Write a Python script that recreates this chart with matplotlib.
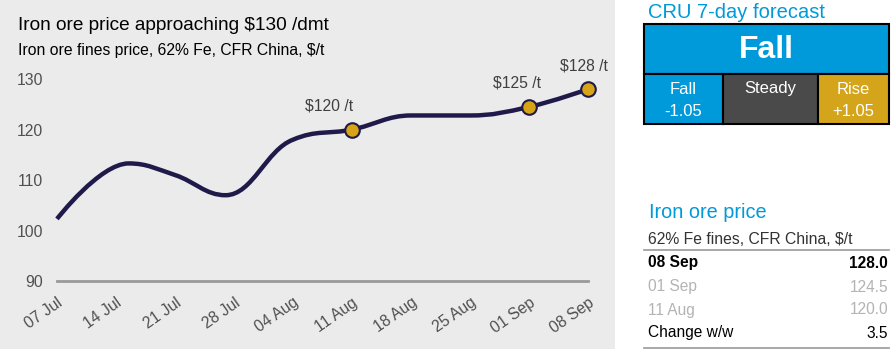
import matplotlib
matplotlib.use("Agg")
import matplotlib.pyplot as plt
from matplotlib.path import Path
from matplotlib.patches import PathPatch, Rectangle

plt.rcParams['font.family'] = ['Liberation Sans', 'DejaVu Sans']

# price readings (day 0 = 07 Jul), $/t
days = [0, 8.5, 14, 20, 28, 35, 42, 49, 56, 63]
prices = [102.3, 113.3, 111.0, 107.0, 118.0, 120.0, 122.8, 122.8, 124.5, 128.0]

tick_days = [0, 7, 14, 21, 28, 35, 42, 49, 56, 63]
tick_labels = ['07 Jul', '14 Jul', '21 Jul', '28 Jul', '04 Aug',
               '11 Aug', '18 Aug', '25 Aug', '01 Sep', '08 Sep']

# highlighted points
mark_days = [35, 56, 63]
mark_prices = [120.0, 124.5, 128.0]
mark_labels = ['$120 /t', '$125 /t', '$128 /t']

# forecast box
forecast = 'Fall'
fall_value = '-1.05'
rise_value = '+1.05'

# price table
table_dates = ['08 Sep', '01 Sep', '11 Aug']
table_values = ['128.0', '124.5', '120.0']
change_ww = '3.5'

NAVY = '#1f1a4a'
GOLD = '#d6a416'
BLUE = '#0099d9'
GREY_TXT = '#505050'


def spline_path(xs, ys):
    # smooth curve through points, same control point rule as a highcharts spline
    sm, den = 1.5, 2.5
    verts = [(xs[0], ys[0])]
    codes = [Path.MOVETO]
    right = (xs[0], ys[0])
    n = len(xs)
    for i in range(1, n):
        x, y = xs[i], ys[i]
        if i < n - 1:
            lx, ly = xs[i - 1], ys[i - 1]
            nx, ny = xs[i + 1], ys[i + 1]
            lcx = (sm * x + lx) / den
            lcy = (sm * y + ly) / den
            rcx = (sm * x + nx) / den
            rcy = (sm * y + ny) / den
            if rcx != lcx:
                corr = ((rcy - lcy) * (rcx - x)) / (rcx - lcx) + y - rcy
                lcy += corr
                rcy += corr
            if lcy > ly and lcy > y:
                lcy = max(ly, y); rcy = 2 * y - lcy
            elif lcy < ly and lcy < y:
                lcy = min(ly, y); rcy = 2 * y - lcy
            if rcy > ny and rcy > y:
                rcy = max(ny, y); lcy = 2 * y - rcy
            elif rcy < ny and rcy < y:
                rcy = min(ny, y); lcy = 2 * y - rcy
            left = (lcx, lcy)
            new_right = (rcx, rcy)
        else:
            left = (x, y)
            new_right = None
        verts += [right, left, (x, y)]
        codes += [Path.CURVE4] * 3
        right = new_right
    return Path(verts, codes)


W, H = 896, 358
fig = plt.figure(figsize=(W / 100, H / 100), dpi=100)

# grey panel behind the chart
fig.patches.append(Rectangle((0, 9 / H), 615 / W, 1 - 9 / H, transform=fig.transFigure,
                             facecolor='#ebebeb', edgecolor='none', zorder=-5))

ax = fig.add_axes([57 / W, 77 / H, 531 / W, 217 / H])
ax.set_facecolor('none')
ax.set_zorder(2)
ax.set_xlim(0, 63)
ax.set_ylim(90, 133)
for s in ['top', 'right', 'left']:
    ax.spines[s].set_visible(False)
ax.spines['bottom'].set_color('#999999')
ax.spines['bottom'].set_linewidth(2)
ax.set_yticks([90, 100, 110, 120, 130])
ax.tick_params(axis='y', length=0, pad=10, labelsize=11.3, labelcolor=GREY_TXT)
ax.set_xticks(tick_days)
ax.set_xticklabels(tick_labels, rotation=35, ha='right', va='top', rotation_mode='anchor')
ax.tick_params(axis='x', length=0, pad=10, labelsize=11.3, labelcolor=GREY_TXT)

ax.add_patch(PathPatch(spline_path(days, prices), fill=False, edgecolor=NAVY,
                       linewidth=3.2, capstyle='butt', clip_on=False, zorder=3))
ax.scatter(mark_days, mark_prices, s=110, color=GOLD, edgecolor=NAVY, linewidth=1.5,
           zorder=4, clip_on=False)
offsets = [(-23, 16), (-12, 16), (-4, 16)]
for d, p, lab, off in zip(mark_days, mark_prices, mark_labels, offsets):
    ax.annotate(lab, (d, p), xytext=off, textcoords='offset pixels', ha='center',
                va='bottom', fontsize=11.3, color='#404040')

fig.text(18 / W, 1 - 25 / H, 'Iron ore price approaching $130 /dmt', fontsize=13.7,
         va='center', color='black')
fig.text(18 / W, 1 - 50 / H, 'Iron ore fines price, 62% Fe, CFR China, $/t', fontsize=11.3,
         va='center', color='black')

# forecast box
fig.text(648 / W, 1 - 12 / H, 'CRU 7-day forecast', fontsize=14.5, color=BLUE, va='center')
bx0, bx1, bx2, bx3 = 644, 723, 818, 889
by0, by1, by2 = 24, 74, 124
cells = [(bx0, by0, bx3, by1, BLUE), (bx0, by1, bx1, by2, BLUE),
         (bx1, by1, bx2, by2, '#4a4a4a'), (bx2, by1, bx3, by2, '#d4a41a')]
for x0, y0, x1, y1, c in cells:
    fig.patches.append(Rectangle((x0 / W, 1 - y1 / H), (x1 - x0) / W, (y1 - y0) / H,
                                 transform=fig.transFigure, facecolor=c,
                                 edgecolor='black', linewidth=1.5))
fig.text((bx0 + bx3) / 2 / W, 1 - 50 / H, forecast, fontsize=23, fontweight='bold',
         color='white', ha='center', va='center')
cell_font = 12
fig.text((bx0 + bx1) / 2 / W, 1 - 90 / H, 'Fall', fontsize=cell_font, color='white',
         ha='center', va='center')
fig.text((bx0 + bx1) / 2 / W, 1 - 111 / H, fall_value, fontsize=cell_font, color='white',
         ha='center', va='center')
fig.text((bx1 + bx2) / 2 / W, 1 - 89 / H, 'Steady', fontsize=cell_font, color='white',
         ha='center', va='center')
fig.text((bx2 + bx3) / 2 / W, 1 - 90 / H, 'Rise', fontsize=cell_font, color='white',
         ha='center', va='center')
fig.text((bx2 + bx3) / 2 / W, 1 - 111 / H, rise_value, fontsize=cell_font, color='white',
         ha='center', va='center')

# price table
fig.text(649 / W, 1 - 212 / H, 'Iron ore price', fontsize=14.3, color=BLUE, va='center')
fig.text(648 / W, 1 - 240 / H, '62% Fe fines, CFR China, $/t', fontsize=11.3,
         color='#333333', va='center')
for yy in [250, 348]:
    fig.add_artist(plt.Line2D([644 / W, 889 / W], [1 - yy / H, 1 - yy / H],
                              color='#999999', linewidth=1.2))
row_y = [263, 287, 310]
row_style = [('black', 'bold'), ('#b3b3b3', 'normal'), ('#b3b3b3', 'normal')]
for yy, dt, val, (c, w) in zip(row_y, table_dates, table_values, row_style):
    fig.text(648 / W, 1 - yy / H, dt, fontsize=11.2, color=c, fontweight=w, va='center')
    fig.text(888 / W, 1 - yy / H, val, fontsize=11.2, color=c, fontweight=w, va='center',
             ha='right')
fig.text(648 / W, 1 - 333 / H, 'Change w/w', fontsize=11.2, color='black', va='center')
fig.text(888 / W, 1 - 333 / H, change_ww, fontsize=11.2, color='black', va='center',
         ha='right')

fig.savefig('out.png', dpi=100)
